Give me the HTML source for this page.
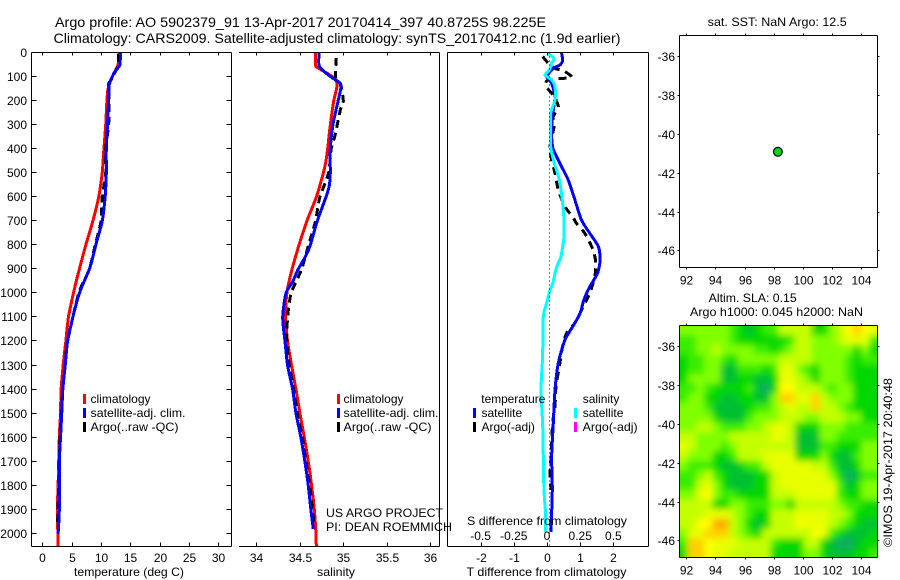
<!DOCTYPE html>
<html lang="en">
<head>
<meta charset="utf-8">
<title>Argo profile</title>
<style>
html,body{margin:0;padding:0;background:#fff;}
svg{display:block;}
text{font-family:"Liberation Sans",sans-serif;font-size:12px;fill:#000;}
</style>
</head>
<body>
<svg id="fig" xmlns="http://www.w3.org/2000/svg" width="900" height="580" viewBox="0 0 900 580">
  <defs>
    <clipPath id="clipT"><rect x="32" y="53" width="199" height="493"/></clipPath>
    <clipPath id="clipS"><rect x="240" y="53" width="199" height="493"/></clipPath>
    <clipPath id="clipD"><rect x="448" y="53" width="200" height="493"/></clipPath>
    <clipPath id="clipM"><rect x="680" y="326" width="197" height="231"/></clipPath>
    <filter id="soft" filterUnits="userSpaceOnUse" x="660" y="300" width="240" height="280"><feGaussianBlur stdDeviation="3.4"/></filter>
  </defs>
  <rect width="900" height="580" fill="#fff"/>

  <text x="55" y="27" font-size="14" style="font-size:14px" textLength="491" lengthAdjust="spacingAndGlyphs">Argo profile: AO 5902379_91 13-Apr-2017 20170414_397 40.8725S 98.225E</text>
  <text x="53.5" y="43" style="font-size:14px" textLength="567" lengthAdjust="spacingAndGlyphs">Climatology: CARS2009. Satellite-adjusted climatology: synTS_20170412.nc (1.9d earlier)</text>

  <g id="heat" clip-path="url(#clipM)"></g>
  <g id="series"></g>
  <g id="axes" stroke="#000" fill="none" stroke-width="1" shape-rendering="crispEdges"></g>
  <g id="labels"></g>

  <circle id="marker" r="4.4" fill="#00d81c" stroke="#000" stroke-width="1.2"/>

  <text x="74" y="576" textLength="110" lengthAdjust="spacingAndGlyphs">temperature (deg C)</text>
  <text x="317" y="576" textLength="38" lengthAdjust="spacingAndGlyphs">salinity</text>
  <text x="466.5" y="576" textLength="160" lengthAdjust="spacingAndGlyphs">T difference from climatology</text>
  <text x="467" y="525" textLength="160" lengthAdjust="spacingAndGlyphs">S difference from climatology</text>

  <g>
    <rect x="83" y="394" width="3" height="10" fill="#f00"/>
    <rect x="83" y="408" width="3" height="10" fill="#00f"/>
    <rect x="83" y="422" width="3" height="10" fill="#000"/>
    <text x="90.5" y="403">climatology</text>
    <text x="90.5" y="417" textLength="95" lengthAdjust="spacingAndGlyphs">satellite-adj. clim.</text>
    <text x="90.5" y="431" textLength="88" lengthAdjust="spacingAndGlyphs">Argo(..raw -QC)</text>
  </g>
  <g>
    <rect x="337" y="394" width="3" height="10" fill="#f00"/>
    <rect x="337" y="408" width="3" height="10" fill="#00f"/>
    <rect x="337" y="422" width="3" height="10" fill="#000"/>
    <text x="343.5" y="403">climatology</text>
    <text x="343.5" y="417" textLength="95" lengthAdjust="spacingAndGlyphs">satellite-adj. clim.</text>
    <text x="343.5" y="431" textLength="88" lengthAdjust="spacingAndGlyphs">Argo(..raw -QC)</text>
  </g>
  <g>
    <text x="481.3" y="403" textLength="64" lengthAdjust="spacingAndGlyphs">temperature</text>
    <rect x="473" y="408" width="3" height="10" fill="#00f"/>
    <rect x="473" y="422" width="3" height="10" fill="#000"/>
    <text x="481.5" y="417">satellite</text>
    <text x="481.5" y="431">Argo(-adj)</text>
    <text x="582.7" y="403">salinity</text>
    <rect x="574" y="408" width="3" height="10" fill="#0ff"/>
    <rect x="574" y="422" width="3" height="10" fill="#f0f"/>
    <text x="582.7" y="417">satellite</text>
    <text x="582.7" y="431" textLength="55" lengthAdjust="spacingAndGlyphs">Argo(-adj)</text>
  </g>

  <text x="326" y="517" textLength="117" lengthAdjust="spacingAndGlyphs">US ARGO PROJECT</text>
  <text x="326" y="531" textLength="126" lengthAdjust="spacingAndGlyphs">PI: DEAN ROEMMICH</text>

  <text x="707.7" y="26" textLength="139" lengthAdjust="spacingAndGlyphs">sat. SST: NaN Argo: 12.5</text>
  <text x="708.7" y="302" textLength="88" lengthAdjust="spacingAndGlyphs">Altim. SLA: 0.15</text>
  <text x="690" y="316" textLength="173" lengthAdjust="spacingAndGlyphs">Argo h1000: 0.045 h2000: NaN</text>
  <text transform="translate(892 547) rotate(-90)" textLength="169" lengthAdjust="spacingAndGlyphs">©IMOS 19-Apr-2017 20:40:48</text>
</svg>

<script>
// ---- tick labels ----
var depthTicks = [0,100,200,300,400,500,600,700,800,900,1000,1100,1200,1300,1400,1500,1600,1700,1800,1900,2000];
var tempTicks = [0,5,10,15,20,25,30];
var salTicks = [34,34.5,35,35.5,36];
var tDiffTicks = [-2,-1,0,1,2];
var sDiffTicks = [-0.5,-0.25,0,0.25,0.5];
var lonTicks = [92,94,96,98,100,102,104];
var latTicks = [-36,-38,-40,-42,-44,-46];

// ---- temperature panel ----
var tempClimDepth = [0,50,100,150,200,300,400,500,600,700,800,900,1000,1100,1200,1300,1400,1500,1600,1700,1800,1900,2000,2060];
var tempClim = [13.1,12.9,11.9,11.2,11.0,10.8,10.5,10.2,9.6,8.6,7.4,6.3,5.3,4.45,4.0,3.55,3.2,3.1,2.9,2.8,2.7,2.55,2.65,2.65];
var tempSatDepth = [0,50,80,100,130,200,300,400,500,600,700,800,850,900,1000,1100,1200,1300,1400,1500,1600,1700,1800,1900,2000];
var tempSat = [13.3,13.2,12.3,11.9,11.4,11.3,11.1,10.9,10.9,10.7,10.2,9.1,8.6,8.0,6.3,5.2,4.3,3.9,3.5,3.3,3.1,2.9,2.9,2.9,2.7];
var tempArgoDepth = [5,50,100,130,200,300,400,500,600,700,800,900,1000,1200,1300,1400,1600,1800,1960];
var tempArgo = [13.0,12.9,12.0,11.3,11.4,11.3,10.8,10.8,10.2,10.0,9.0,8.0,6.2,4.3,3.9,3.5,3.0,2.8,2.6];

// ---- salinity panel ----
var salClimDepth = [0,50,60,100,130,200,300,400,450,500,600,700,800,900,1000,1100,1200,1300,1400,1500,1600,1700,1800,1900,2000,2060];
var salClim = [34.68,34.68,34.7,34.88,34.93,34.89,34.85,34.82,34.8,34.77,34.69,34.58,34.49,34.41,34.35,34.337,34.36,34.406,34.456,34.502,34.552,34.598,34.636,34.667,34.686,34.69];
var salSatDepth = [0,50,70,100,125,150,200,300,400,500,550,600,700,800,850,900,950,1000,1100,1200,1300,1400,1500,1600,1700,1800,1900,1980];
var salSat = [34.72,34.72,34.76,34.86,34.96,34.97,34.94,34.88,34.85,34.85,34.84,34.8,34.7,34.62,34.56,34.48,34.42,34.34,34.303,34.33,34.36,34.418,34.456,34.513,34.559,34.598,34.628,34.655];
var salArgoDepth = [20,100,130,200,230,300,350,400,500,600,700,800,900,1000,1100,1200,1300,1400,1500,1600,1700,1800,1900,1960];
var salArgo = [34.92,34.91,34.97,35.0,34.97,34.93,34.9,34.86,34.83,34.73,34.68,34.6,34.52,34.4,34.36,34.35,34.38,34.43,34.47,34.53,34.57,34.615,34.645,34.665];

// ---- difference panel ----
var diffZeroGuide = 0.05;
var tDiffSatDepth = [0,30,50,64,98,126,182,258,334,390,417,473,528,611,695,750,806,861,917,972,1027,1082,1123,1194,1290,1402,1539,1680,1818,1993];
var tDiffSat = [0.44,0.47,0.39,0.19,-0.01,0.14,0.24,0.17,0.14,0.17,0.24,0.44,0.64,0.84,1.04,1.29,1.55,1.6,1.52,1.29,1.11,1.0,0.84,0.54,0.34,0.24,0.19,0.14,0.16,0.12];
var tDiffArgoDepth = [15,43,64,75,101,108,116,143,175,223,265,306,390,445,500,570,639,681,709,750,819,875,930,1000,1041,1123,1165,1221,1290,1387,1471,1539,1680,1749,1818];
var tDiffArgo = [-0.13,0.04,0.24,0.51,0.74,0.24,-0.01,-0.01,0.19,0.34,0.19,0.21,0.09,0.14,0.24,0.34,0.54,0.77,0.89,1.14,1.39,1.47,1.44,1.29,1.14,0.84,0.59,0.47,0.39,0.27,0.24,0.17,0.12,0.09,0.12];
var sDiffSatDepth = [0,22,43,71,92,112,140,196,251,334,390,445,528,611,695,764,847,889,958,986,1041,1097,1263,1402,1539,1680,1818,1901,1993];
var sDiffSat = [0.003,0.053,0.035,0.018,-0.015,0.035,0.06,0.06,0.028,0.028,0.028,0.048,0.093,0.115,0.128,0.128,0.105,0.073,0.043,0.023,-0.003,-0.028,-0.033,-0.045,-0.033,-0.028,-0.023,-0.013,-0.01];

// ---- float position ----
var floatLon = 98.225;
var floatLat = -40.8725;

// ---- SLA map: colour level per cell, rows north to south ----
var slaLevels = [
[4,4,4,4,4,4,3,2,1,2,3,3,5,5,5,5,2,2,4,5,7,8,7,6],
[3,3,4,4,4,4,3,2,2,2,2,2,2,3,5,5,4,4,4,5,6,6,6,3],
[3,3,4,4,5,4,4,4,4,3,3,2,3,4,5,5,4,4,4,4,4,2,4,2],
[2,3,3,4,4,3,2,4,4,4,4,4,5,5,5,5,4,4,4,4,3,2,3,3],
[2,3,3,4,4,1,1,3,3,3,2,3,6,6,4,3,2,4,4,4,3,2,2,2],
[2,4,4,4,4,1,1,2,2,1,1,2,6,6,5,4,2,4,4,4,3,2,2,2],
[3,3,4,3,2,2,2,2,3,1,0,2,7,7,5,5,5,4,3,4,4,2,2,2],
[3,4,4,2,2,1,1,2,2,1,1,4,8,8,6,6,8,5,4,4,4,2,2,2],
[4,4,4,3,1,1,1,1,2,3,3,4,5,6,5,5,8,5,5,4,3,2,2,2],
[4,4,4,4,2,1,1,1,3,4,4,4,5,5,5,4,4,5,5,5,4,4,2,2],
[4,4,5,5,4,3,3,3,4,4,5,6,6,5,2,2,2,4,4,4,3,3,3,3],
[5,5,4,4,4,4,5,5,5,5,5,6,6,5,1,1,1,4,4,3,3,3,3,3],
[6,5,4,4,4,3,4,5,5,5,5,5,5,5,1,1,1,3,3,2,2,2,4,4],
[5,4,4,4,2,2,3,5,5,5,6,6,6,6,2,2,2,4,2,1,1,3,4,4],
[4,3,3,3,2,1,1,2,3,3,5,6,6,6,6,6,5,5,3,1,1,2,4,4],
[3,3,4,5,3,2,1,1,1,2,2,5,6,6,6,6,6,6,4,2,0,1,3,3],
[3,3,5,6,4,2,1,1,1,2,2,5,6,6,6,6,6,6,6,3,1,2,4,4],
[4,4,6,7,4,3,3,2,2,2,2,5,5,5,6,6,6,6,6,3,2,2,4,4],
[5,5,5,5,2,2,4,4,3,3,3,4,4,2,5,5,5,5,5,4,3,3,2,2],
[5,5,5,6,6,6,5,4,3,2,2,5,5,5,6,6,6,6,5,5,4,2,2,2],
[5,5,7,7,9,9,5,4,2,1,2,5,5,5,7,6,6,6,5,4,3,2,1,1],
[4,6,6,8,8,8,5,4,3,2,5,5,5,5,5,5,7,6,3,2,1,1,1,2],
[3,8,8,7,6,6,6,5,5,5,5,3,2,2,2,5,5,2,1,0,0,1,2,2],
[2,8,8,7,6,6,5,5,5,5,5,2,2,2,2,4,4,2,1,1,1,2,2,3]
];

var NS = 'http://www.w3.org/2000/svg';
var levelColor = ['#0ca868','#00c030','#00d800','#38ee00','#80ff00','#c4ff00','#e8ff00','#ffff00','#ffd000','#ffa800'];

// axis functions
function yDepth(d){ return 53 + d * 0.2404; }
function xTemp(t){ return 42.3 + t * 5.87; }
function xSal(s){ return 256.3 + (s - 34) * 87; }
function xDiff(v){ return 547 + v * 33.2; }
function xSDiff(s){ return xDiff(s * 4); }
function xLon(l){ return 686.3 + (l - 92) * 14.58; }
function yLatTop(l){ return 57.3 + (-36 - l) * 19.4; }
function yLatBottom(l){ return 347.3 + (-36 - l) * 19.4; }

var axes = document.getElementById('axes');
var labels = document.getElementById('labels');
var series = document.getElementById('series');
var heat = document.getElementById('heat');

function line(x1,y1,x2,y2,name){
  var el = document.createElementNS(NS,'line');
  el.setAttribute('x1',x1); el.setAttribute('y1',y1);
  el.setAttribute('x2',x2); el.setAttribute('y2',y2);
  
  
  axes.appendChild(el);
  return el;
}
function label(x,y,str,anchor,name){
  var el = document.createElementNS(NS,'text');
  el.setAttribute('x',x); el.setAttribute('y',y);
  el.setAttribute('text-anchor',anchor);
  el.textContent = str;
  
  
  labels.appendChild(el);
}
// smooth path through the data points (Catmull-Rom, reduced tension)
function curve(xFn,depths,values,color,clip,dash,name){
  var pts = values.map(function(v,i){ return [xFn(v), yDepth(depths[i])]; });
  var d = 'M' + pts[0][0].toFixed(1) + ' ' + pts[0][1].toFixed(1);
  for (var i = 0; i < pts.length - 1; i++){
    var p0 = pts[Math.max(i-1,0)], p1 = pts[i], p2 = pts[i+1], p3 = pts[Math.min(i+2,pts.length-1)];
    var k = 0.12;
    d += 'C' + (p1[0]+(p2[0]-p0[0])*k).toFixed(1) + ' ' + (p1[1]+(p2[1]-p0[1])*k).toFixed(1) + ' '
       + (p2[0]-(p3[0]-p1[0])*k).toFixed(1) + ' ' + (p2[1]-(p3[1]-p1[1])*k).toFixed(1) + ' '
       + p2[0].toFixed(1) + ' ' + p2[1].toFixed(1);
  }
  var el = document.createElementNS(NS,'path');
  el.setAttribute('d',d);
  el.setAttribute('fill','none');
  el.setAttribute('stroke',color);
  el.setAttribute('stroke-width','3');
  el.setAttribute('stroke-linejoin','round');
  el.setAttribute('shape-rendering','crispEdges');
  el.setAttribute('clip-path','url(#'+clip+')');
  if (dash) el.setAttribute('stroke-dasharray',dash);
  
  
  series.appendChild(el);
}

// panel frames
var T=52.5, B=546.5;
line(31.5,T,231.5,T,'temperature-axis-top');
line(31.5,B,231.5,B,'temperature-axis-bottom');
line(31.5,T,31.5,B,'temperature-axis-left');
line(231.5,T,231.5,B,'temperature-axis-right');
line(239,T,439.5,T,'salinity-axis-top');
line(239,B,439.5,B,'salinity-axis-bottom');
line(439.5,T,439.5,B,'salinity-axis-right');
line(447.5,T,648.5,T,'difference-axis-top');
line(447.5,B,648.5,B,'difference-axis-bottom');
line(447.5,T,447.5,B,'difference-axis-left');
line(648.5,T,648.5,B,'difference-axis-right');
line(679.5,35.5,877.5,35.5,'sst-map-top');
line(679.5,267.5,877.5,267.5,'sst-map-bottom');
line(679.5,35.5,679.5,267.5,'sst-map-left');
line(877.5,35.5,877.5,267.5,'sst-map-right');

// depth ticks
depthTicks.forEach(function(d){
  var y = Math.round(yDepth(d)) - 0.5;
  line(31.5,y,36.5,y,'depth-tick-left');
  line(226.5,y,231.5,y,'depth-tick-right');
  label(27,y+4.5,String(d),'end','depth-tick-label');
});
// bottom-axis ticks
function xTicks(vals,fn,name){
  vals.forEach(function(v){
    var x = Math.round(fn(v)) + 0.5;
    line(x,T,x,T+3,name+'-tick-top');
    line(x,B-4,x,B,name+'-tick-bottom');
    label(x,562,String(v),'middle',name+'-tick-label');
  });
}
xTicks(tempTicks,xTemp,'temperature');
xTicks(salTicks,xSal,'salinity');
xTicks(tDiffTicks,xDiff,'t-difference');
sDiffTicks.forEach(function(s){
  label(xSDiff(s),540,String(s),'middle','s-difference-tick-label');
});

// zero guide
var guide = line(Math.round(xDiff(diffZeroGuide))+0.5,T,Math.round(xDiff(diffZeroGuide))+0.5,B,'zero-difference-guide');
guide.setAttribute('stroke-dasharray','1 3');

// map ticks
function mapTicks(yFn,top,bottom,name){
  lonTicks.forEach(function(l){
    var x = Math.round(xLon(l)) + 0.5;
    line(x,top-2,x,top,name+'-lon-tick-top');
    line(x,bottom,x,bottom+2,name+'-lon-tick-bottom');
    label(x,bottom+17,String(l),'middle',name+'-lon-label');
  });
  latTicks.forEach(function(l){
    var y = Math.round(yFn(l)) - 0.5;
    line(677.5,y,679.5,y,name+'-lat-tick-left');
    line(877.5,y,879.5,y,name+'-lat-tick-right');
    label(675,y+4.5,String(l),'end',name+'-lat-label');
  });
}
mapTicks(yLatTop,35.5,267.5,'sst-map');
mapTicks(yLatBottom,325.5,557.5,'sla-map');

// series
curve(xTemp,tempClimDepth,tempClim,'#f00','clipT',null,'temperature-climatology-line');
curve(xTemp,tempArgoDepth,tempArgo,'#000','clipT','8 5','temperature-argo-line');
curve(xTemp,tempSatDepth,tempSat,'#00f','clipT',null,'temperature-satellite-line');
curve(xSal,salClimDepth,salClim,'#f00','clipS',null,'salinity-climatology-line');
curve(xSal,salArgoDepth,salArgo,'#000','clipS','8 5','salinity-argo-line');
curve(xSal,salSatDepth,salSat,'#00f','clipS',null,'salinity-satellite-line');
curve(xDiff,tDiffArgoDepth,tDiffArgo,'#000','clipD','8 6','t-difference-argo-line');
curve(xDiff,tDiffSatDepth,tDiffSat,'#00f','clipD',null,'t-difference-satellite-line');
curve(xSDiff,sDiffSatDepth,sDiffSat,'#0ff','clipD',null,'s-difference-satellite-line');

// float marker
var marker = document.getElementById('marker');
marker.setAttribute('cx', (xLon(floatLon)+0.8).toFixed(1));
marker.setAttribute('cy', yLatTop(floatLat).toFixed(1));

// heatmap
var backing = document.createElementNS(NS,'rect');
backing.setAttribute('x',670); backing.setAttribute('y',316);
backing.setAttribute('width',220); backing.setAttribute('height',252);
backing.setAttribute('fill','#80ff00');


heat.appendChild(backing);
var cellGroup = document.createElementNS(NS,'g');
cellGroup.setAttribute('filter','url(#soft)');


heat.appendChild(cellGroup);
var cellW = 198 / slaLevels[0].length;
var cellH = 232 / slaLevels.length;
slaLevels.forEach(function(row,r){
  row.forEach(function(v,c){
    var x = 679.5 + c * cellW, y = 325.5 + r * cellH;
    var w = cellW + 0.3, h = cellH + 0.3;
    if (c === 0){ x -= 10; w += 10; }
    if (c === row.length - 1){ w += 10; }
    if (r === 0){ y -= 10; h += 10; }
    if (r === slaLevels.length - 1){ h += 10; }
    var cell = document.createElementNS(NS,'rect');
    cell.setAttribute('x',x.toFixed(2)); cell.setAttribute('y',y.toFixed(2));
    cell.setAttribute('width',w.toFixed(2)); cell.setAttribute('height',h.toFixed(2));
    cell.setAttribute('fill',levelColor[v]);
    
    
    cellGroup.appendChild(cell);
  });
});
// SLA map frame over the cells
line(679.5,325.5,877.5,325.5,'sla-map-top');
line(679.5,557.5,877.5,557.5,'sla-map-bottom');
line(679.5,325.5,679.5,557.5,'sla-map-left');
line(877.5,325.5,877.5,557.5,'sla-map-right');
</script>
</body>
</html>
